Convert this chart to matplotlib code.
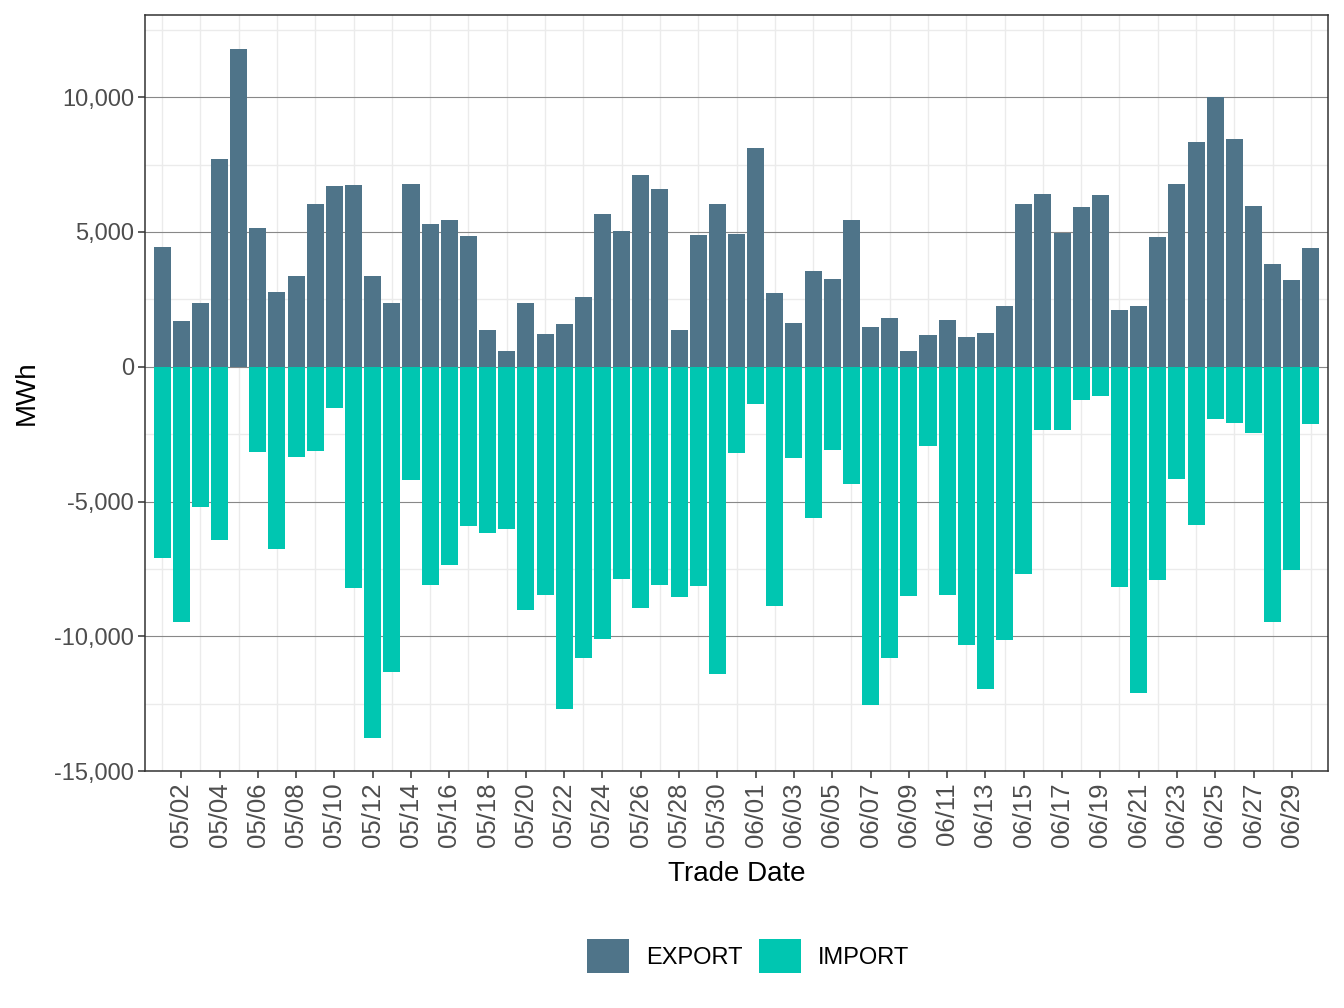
import numpy as np
import pandas as pd
import matplotlib
matplotlib.use('Agg')
import matplotlib.pyplot as plt
import matplotlib.dates as mdates
from matplotlib.ticker import FuncFormatter

plt.rcParams['font.family'] = ['Liberation Sans', 'DejaVu Sans']

dates = pd.date_range('2023-05-01', '2023-06-30', freq='D')

export_mwh = [4460, 1680, 2380, 7720, 11790, 5160, 2790, 3350, 6050, 6720,
              6750, 3350, 2380, 6790, 5310, 5460, 4860, 1380, 600, 2350,
              1230, 1570, 2570, 5680, 5050, 7120, 6600, 1380, 4900, 6050,
              4940, 8120, 2750, 1640, 3570, 3270, 5460, 1460, 1790, 570,
              1160, 1750, 1120, 1270, 2270, 6050, 6420, 4980, 5940, 6380,
              2090, 2270, 4830, 6790, 8350, 10000, 8460, 5980, 3830, 3200,
              4420]

import_mwh = [-7090, -9470, -5200, -6420, 0, -3160, -6760, -3340, -3120, -1520,
              -8210, -13770, -11320, -4200, -8090, -7350, -5900, -6160, -6010, -9020,
              -8470, -12700, -10800, -10100, -7870, -8950, -8090, -8540, -8130, -11400,
              -3190, -1370, -8870, -3380, -5610, -3080, -4340, -12550, -10800, -8500,
              -2930, -8470, -10320, -11960, -10140, -7690, -2340, -2340, -1230, -1080,
              -8170, -12100, -7910, -4160, -5870, -1930, -2080, -2450, -9470, -7540,
              -2120]

export_color = '#4f7489'
import_color = '#00c6b1'

fig = plt.figure(figsize=(13.44, 10.08), dpi=100)
ax = fig.add_axes([0.1079, 0.2351, 0.8802, 0.75])

x = mdates.date2num(dates)
ax.bar(x, export_mwh, width=0.89, color=export_color, label='EXPORT', zorder=3)
ax.bar(x, import_mwh, width=0.89, color=import_color, label='IMPORT', zorder=3)

ax.set_xlim(x[0] - 0.89, x[-1] + 0.89)
ax.set_ylim(-15000, 13050)

# ticks every 2 days from 05/02, light grid on the days between
ax.set_xticks(x[1::2])
ax.set_xticklabels([d.strftime('%m/%d') for d in dates[1::2]], rotation=90)
ax.set_xticks(x[0::2], minor=True)
ax.set_yticks([-15000, -10000, -5000, 0, 5000, 10000])
ax.set_yticks([-12500, -7500, -2500, 2500, 7500, 12500], minor=True)
ax.yaxis.set_major_formatter(FuncFormatter(lambda v, p: f'{int(v):,}'))

ax.grid(True, which='minor', axis='both', color='#ebebeb', lw=1.0, zorder=0)
ax.grid(True, which='major', axis='y', color='#888888', lw=0.8, zorder=1)
ax.set_axisbelow(True)

ax.tick_params(axis='both', which='major', labelcolor='#4d4d4d',
               color='#333333', length=5, width=1.1, pad=3)
ax.tick_params(axis='x', which='major', labelsize=18.5)
ax.tick_params(axis='y', which='major', labelsize=17)
ax.tick_params(axis='both', which='minor', length=0)

for s in ax.spines.values():
    s.set_color('#333333')
    s.set_linewidth(1.1)

ax.set_xlabel('Trade Date', fontsize=20, labelpad=10)
ax.set_ylabel('MWh', fontsize=20, labelpad=10)

fig.legend(loc='center', bbox_to_anchor=(0.5566, 0.0516), ncol=2, frameon=False,
           fontsize=17, handlelength=1.8, handleheight=1.8,
           handletextpad=0.7, columnspacing=0.7)

fig.savefig('out.png', dpi=100)
